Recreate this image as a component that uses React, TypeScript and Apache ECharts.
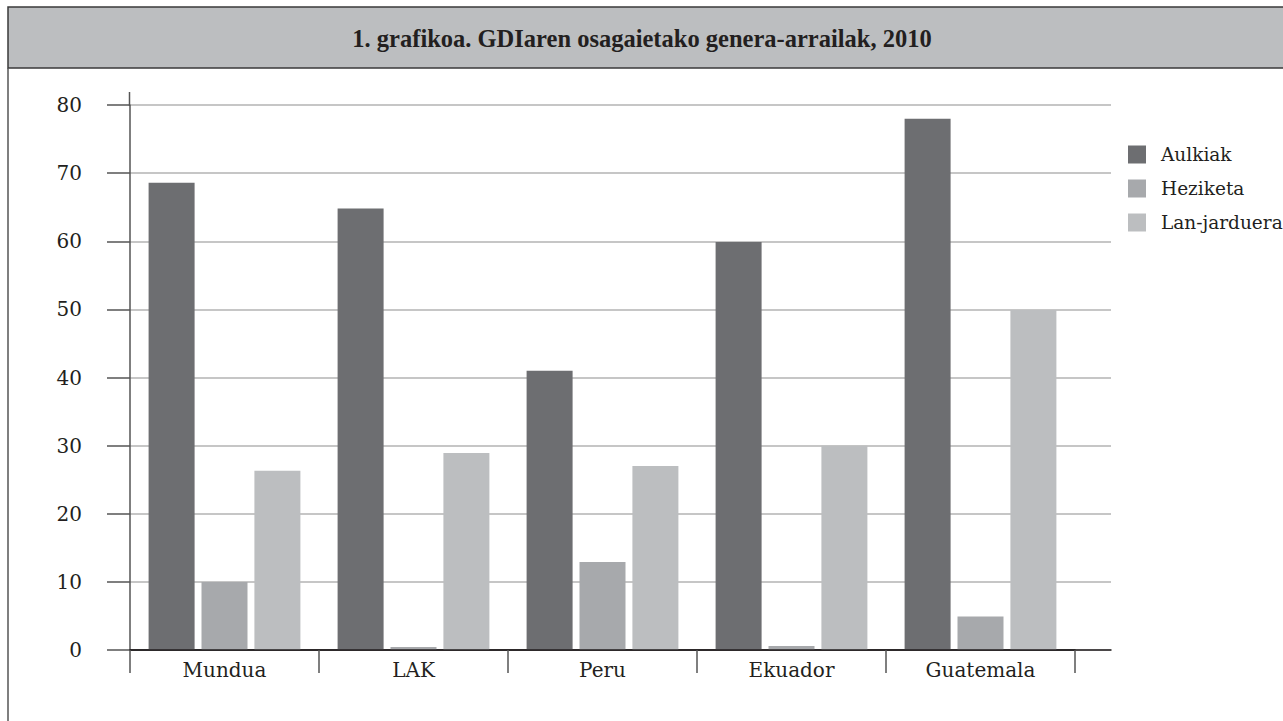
import React, { useEffect, useRef } from "react";
import * as echarts from "echarts";

const categories = ["Mundua", "LAK", "Peru", "Ekuador", "Guatemala"];
const seriesNames = ["Aulkiak", "Heziketa", "Lan-jarduera"];
const aulkiak = [68.6, 64.8, 41.0, 59.9, 78.0];
const heziketa = [10.0, 0.45, 12.9, 0.6, 4.9];
const lanJarduera = [26.3, 28.9, 27.0, 30.0, 49.9];
const colors = ["#6d6e71", "#a7a9ac", "#bcbec0"];
const titleText = "1. grafikoa. GDIaren osagaietako genera-arrailak, 2010";

const SERIF = "'DejaVu Serif', serif";
const TITLE_FONT = "'Liberation Serif', serif";
const DARK = "#231f20";

export default function App() {
  const ref = useRef<HTMLDivElement>(null);
  useEffect(() => {
    if (!ref.current) return;
    const chart = echarts.init(ref.current, undefined, { renderer: "svg" });
    const values = [aulkiak, heziketa, lanJarduera];
    chart.setOption({
      animation: false,
      backgroundColor: "#ffffff",
      graphic: [
        {
          type: "rect",
          shape: { x: 8, y: 7, width: 1290, height: 61 },
          style: { fill: "#bcbec0", stroke: "#3a3a3a", lineWidth: 1.5 },
          z: 0,
        },
        {
          type: "line",
          shape: { x1: 8, y1: 68, x2: 8, y2: 721 },
          style: { stroke: "#555555", lineWidth: 1.5 },
        },
        {
          type: "text",
          x: 642,
          y: 38,
          style: {
            text: titleText,
            font: "bold 24.5px " + TITLE_FONT,
            fill: DARK,
            align: "center",
            verticalAlign: "middle",
          },
          z: 10,
        },
        {
          type: "line",
          shape: { x1: 129.5, y1: 92, x2: 129.5, y2: 106 },
          style: { stroke: "#555555", lineWidth: 1.5 },
        },
      ],
      legend: {
        orient: "vertical",
        left: 1123,
        top: 140,
        itemWidth: 18,
        itemHeight: 18,
        itemGap: 15,
        icon: "rect",
        data: seriesNames,
        textStyle: {
          fontFamily: SERIF,
          fontSize: 18.5,
          color: DARK,
          padding: [0, 0, 0, 10],
        },
      },
      grid: [
        { left: 130, right: 208, top: 105, bottom: 71 },
        { left: 130, right: 172, top: 105, bottom: 71 },
      ],
      xAxis: [
        {
          type: "category",
          gridIndex: 0,
          data: categories,
          axisLine: { show: true, lineStyle: { color: DARK, width: 1.5 } },
          axisTick: { show: true, length: 23, lineStyle: { color: "#555555", width: 1.5 } },
          axisLabel: { fontFamily: SERIF, fontSize: 20, color: DARK, margin: 10 },
          z: 5,
        },
        {
          type: "value",
          gridIndex: 1,
          min: 0,
          max: 1,
          axisLine: { show: true, lineStyle: { color: DARK, width: 1.5 } },
          axisTick: { show: false },
          axisLabel: { show: false },
          splitLine: { show: false },
        },
      ],
      yAxis: [
        {
          type: "value",
          gridIndex: 0,
          min: 0,
          max: 80,
          interval: 10,
          show: false,
          splitLine: { show: false },
        },
        {
          type: "value",
          gridIndex: 1,
          min: 0,
          max: 80,
          interval: 10,
          axisLine: { show: true, lineStyle: { color: "#555555", width: 1.5 } },
          axisTick: { show: true, length: 23, lineStyle: { color: "#555555", width: 1.5 } },
          axisLabel: { fontFamily: SERIF, fontSize: 20, color: DARK, margin: 48 },
          splitLine: { show: true, lineStyle: { color: "#b3b3b3", width: 1.5 } },
        },
      ],
      series: seriesNames.map((name, i) => ({
        name,
        type: "bar",
        xAxisIndex: 0,
        yAxisIndex: 0,
        data: values[i],
        barWidth: 46,
        barGap: "15%",
        itemStyle: { color: colors[i] },
        z: 3,
      })),
    });
    return () => chart.dispose();
  }, []);
  return (
    <div
      ref={ref}
      style={{ position: "fixed", left: 0, top: 0, width: 1283, height: 721 }}
    />
  );
}
